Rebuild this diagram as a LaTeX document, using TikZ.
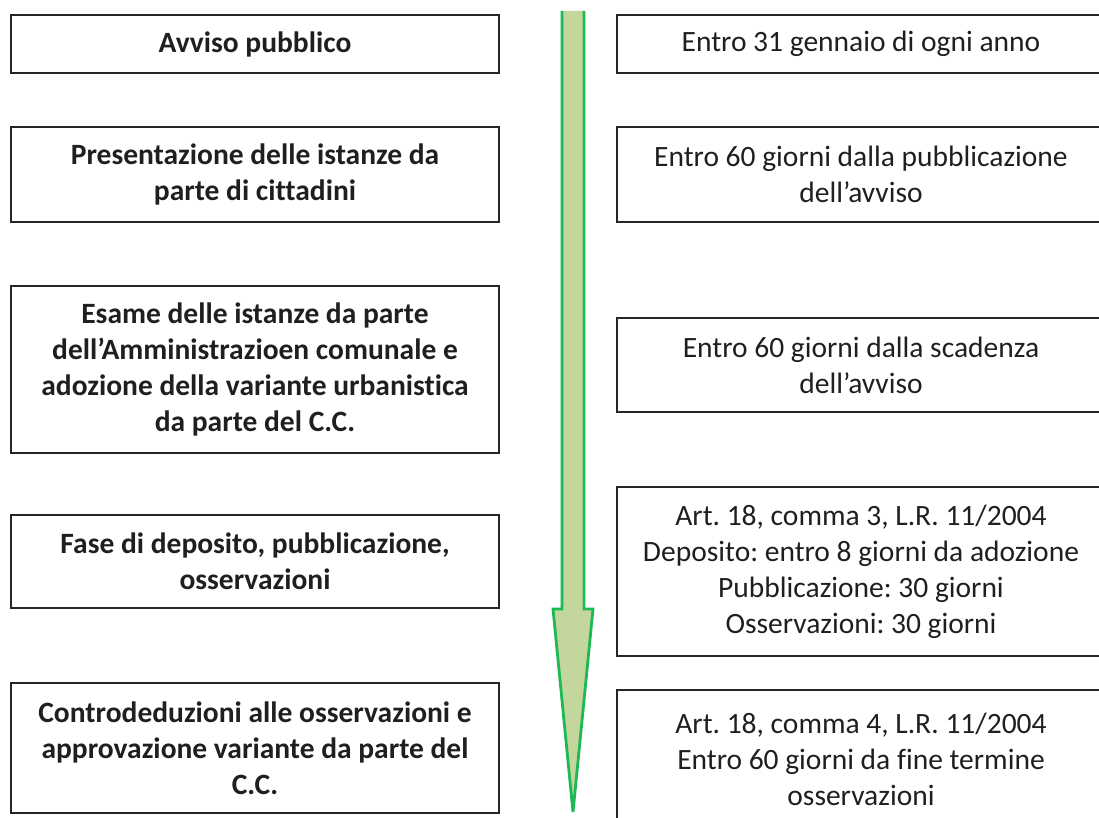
\documentclass[tikz,border=0pt]{standalone}
\usepackage{fontspec}
\setmainfont{Carlito}[Ligatures={TeX,NoCommon}]
\definecolor{arrowfill}{HTML}{C3D69B}
\definecolor{arrowline}{HTML}{1DB954}
\definecolor{boxline}{HTML}{262626}
\frenchspacing
\begin{document}
\begin{tikzpicture}[x=1pt,y=-1pt,
  box/.style={draw=boxline, line width=1.6pt, align=center, inner sep=0pt,
    minimum width=488pt, text=black!88, font=\fontsize{29.5}{36}\selectfont},
  lbox/.style={box, font=\bfseries\fontsize{29.5}{36}\selectfont},
  rbox/.style={box},
  arrowbody/.style={fill=arrowfill},
  arrowedge/.style={draw=arrowline, line width=2.8pt, line join=miter}
]
\clip (0,0) rectangle (1099,818);
% timeline arrow
\coordinate (s1) at (562,11);
\coordinate (s2) at (562,609);
\coordinate (h1) at (553,609);
\coordinate (tip) at (573,812);
\coordinate (h2) at (593,609);
\coordinate (s3) at (584,609);
\coordinate (s4) at (584,11);
\fill[arrowbody] (s1) -- (s2) -- (h1) -- (tip) -- (h2) -- (s3) -- (s4) -- cycle;
\draw[arrowedge] (s1) -- (s2) -- (h1) -- (tip) -- (h2) -- (s3) -- (s4);
% left boxes
\node[lbox, minimum height=58pt]  (l1) at (255,44)    {Avviso pubblico};
\node[lbox, minimum height=95pt]  (l2) at (255,174.5) {Presentazione delle istanze da\\parte di cittadini};
\node[lbox, minimum height=167pt] (l3) at (255,369.5) {Esame delle istanze da parte\\dell’Amministrazioen comunale e\\adozione della variante urbanistica\\da parte del C.C.};
\node[lbox, minimum height=93pt]  (l4) at (255,561.5) {Fase di deposito, pubblicazione,\\osservazioni};
\node[lbox, minimum height=130pt] (l5) at (255,748)   {Controdeduzioni alle osservazioni e\\approvazione variante da parte del\\C.C.};
% right boxes
\node[rbox, minimum height=58pt]  (r1) at (861,44)    {Entro 31 gennaio di ogni anno};
\node[rbox, minimum height=95pt]  (r2) at (861,174.5) {Entro 60 giorni dalla pubblicazione\\dell’avviso};
\node[rbox, minimum height=94pt]  (r3) at (861,365)   {Entro 60 giorni dalla scadenza\\dell’avviso};
\node[rbox, minimum height=169pt] (r4) at (861,571.5) {Art. 18, comma 3, L.R. 11/2004\\Deposito: entro 8 giorni da adozione\\Pubblicazione: 30 giorni\\Osservazioni: 30 giorni};
\node[rbox, minimum height=138pt] (r5) at (861,759)   {Art. 18, comma 4, L.R. 11/2004\\Entro 60 giorni da fine termine\\osservazioni};
\end{tikzpicture}
\end{document}
